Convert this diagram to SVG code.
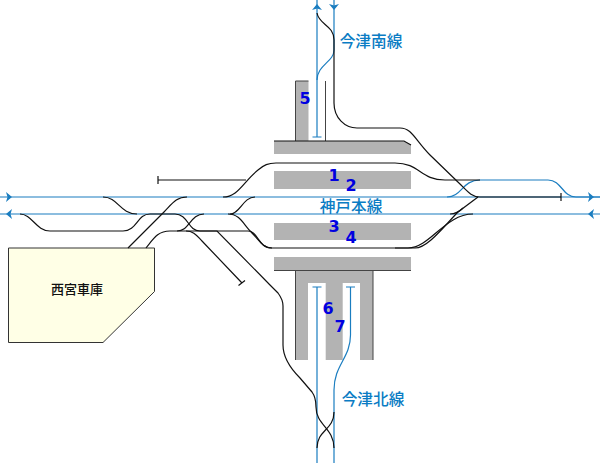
<svg xmlns="http://www.w3.org/2000/svg" width="600" height="463" viewBox="0 0 600 463">
<style>
.plat{fill:#b3b3b3;stroke:none}
.edge{fill:none;stroke:#444;stroke-width:1}
.t{fill:none;stroke:#111;stroke-width:1.2}
.b{fill:none;stroke:#1a7dc0;stroke-width:1.2}
.ah{fill:#1a7dc0}
.n{font-family:"DejaVu Sans",sans-serif;font-weight:700;font-size:16px;fill:#0000e0;text-anchor:middle}
.l{font-family:"Noto Sans CJK JP","DejaVu Sans",sans-serif;font-size:15.700px;font-weight:500;fill:#0a7cc4;text-anchor:middle}
</style>
<defs><path id="a" d="M-3-5 3 0-3 5-1.500 0Z"/></defs>
<rect width="600" height="463" fill="#fff"/>
<g id="platforms">
<g id="p5"><rect class="plat" x="295.500" y="81" width="13" height="60"/><path class="edge" d="M295.500 141V81H308.500"/><path class="edge" d="M325.500 81V141"/></g>
<g id="ptop"><path class="plat" d="M274 141H404L411 145V154H274Z"/><path class="t" d="M274 141H404L411 145"/></g>
<g id="p12"><rect class="plat" x="274" y="171" width="137" height="18"/></g>
<g id="p34"><rect class="plat" x="274" y="223" width="137" height="17"/></g>
<g id="pbottom"><path class="plat" d="M274 257H411V270H373V360H360V283H342.700V360H325.700V283H308V360H295.500V270H274Z"/><path class="edge" d="M274 270.500H411M295.500 270V360M373 270V360"/></g>
</g>
<g id="depot"><path d="M8.500 248H154.500V291.500L103 342.500H8.500Z" fill="#ffffe6" stroke="#333" stroke-width="1"/><text x="77" y="294" font-family="'Noto Sans CJK JP',sans-serif" font-size="13" font-weight="500" text-anchor="middle" fill="#111">西宮車庫</text></g>
<g id="connectors">
<path class="b" d="M0 197H600M0 214H600"/>
<path class="b" d="M480 180H548C562 180 562 197 576 197H600"/>
<path class="b" d="M447 197C462 197 462 180 480 180"/>
<path class="b" d="M317 0V137M312.500 137H321.500"/>
<path class="b" d="M334 0V50C334 62 317 65 317 80"/>
<path class="b" d="M317 287V463M312.500 287H321.500"/>
<path class="b" d="M350.500 287V335C350.500 358 334 365 334 390V463M346 287H355"/>
<g id="tracks">
<path class="t" d="M158 180H246"/><path class="t" d="M158 176V184"/>
<path class="t" d="M223 197C238 197 243 182 258 170C264 165 268 163 276 163H395C420 163 420 180 445 180H480"/>
<path class="t" d="M230 214C240 214 243 197 255 197"/>
<path class="t" d="M317 13C319 25 334 25 334 40V103C334 118 345 128 357 128H400C412 128 415 140 430 155L460 184C468 192 472 197 480 197H561"/><path class="t" d="M561 193V201"/>
<path class="t" d="M20 214C32 214 36 231 50 231H123C137 231 137 214 150 214H175C188 214 188 231 200 231H217L270 285L278 293C281 297 283 300 283 306V345C283 358 290 368 300 378L312 392C315 396 316 400 316 407C316 425 334 428 334 448"/>
<path class="t" d="M334 412C334 430 317 430 317 448"/>
<path class="t" d="M103 197C118 197 120 214 137 214"/>
<path class="t" d="M128 248L164 212C172 204 176 197 187 197"/>
<path class="t" d="M146 248C154 238 158 231 170 231H248C258 231 258 248 272 248H415C428 248 445 225 458 212L478 197"/>
<path class="t" d="M228 214C240 214 243 224 252 233C260 241 263 248 272 248"/>
<path class="t" d="M177 231C190 231 190 214 204 214"/>
<path class="t" d="M186 231C194 231 197 236 202 241L242 283M238.500 285.500 245 280.500"/>
<path class="t" d="M395 248H408C430 248 445 214 473 214"/>
<path class="t" d="M450 214C456 214 459 212 463 208"/>
</g>
<use href="#a" class="ah" x="9" y="197"/><use href="#a" class="ah" x="591" y="197"/>
<use href="#a" class="ah" transform="translate(9 214) rotate(180)"/><use href="#a" class="ah" transform="translate(591 214) rotate(180)"/>
<use href="#a" class="ah" transform="translate(317 7) rotate(-90)"/><use href="#a" class="ah" transform="translate(334 7) rotate(90)"/>
</g>
<g id="labels">
<text class="l" x="371" y="47">今津南線</text>
<text class="l" x="351" y="212">神戸本線</text>
<text class="l" x="373" y="405">今津北線</text>
<text class="n" x="334" y="181">1</text><text class="n" x="351" y="191">2</text>
<text class="n" x="334" y="232">3</text><text class="n" x="351" y="243">4</text>
<text class="n" x="305" y="104">5</text><text class="n" x="328" y="314">6</text><text class="n" x="340" y="332">7</text>
</g>
</svg>
